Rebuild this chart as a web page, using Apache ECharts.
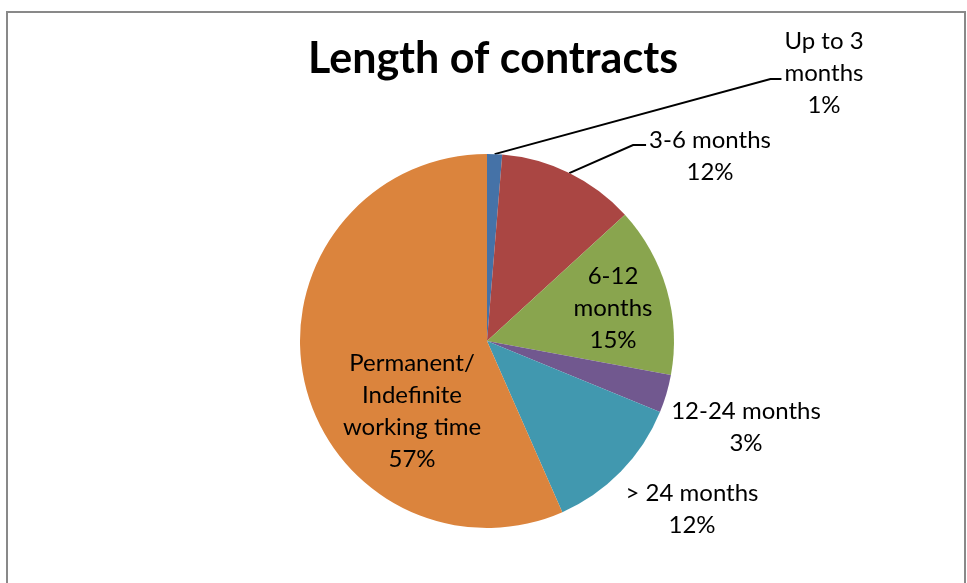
<!DOCTYPE html>
<html>
<head>
<meta charset="utf-8">
<script src="https://cdn.jsdelivr.net/npm/echarts@6/dist/echarts.min.js"></script>
<style>
  html, body { margin: 0; padding: 0; background: #fff; }
  #chart { width: 967px; height: 583px; }
</style>
</head>
<body>
<div id="chart"></div>
<script>
// data
const categories = ['Up to 3\nmonths', '3-6 months', '6-12\nmonths', '12-24 months', '> 24 months', 'Permanent/\nIndefinite\nworking time'];
const shares = [1.3, 11.9, 14.7, 3.3, 12.2, 56.6];
const colors = ['#4572A7', '#AA4643', '#89A54E', '#71588F', '#4198AF', '#DB843D'];

// where each label sits (center of the text block) and its leader line, if any
const labelSpots = [[824, 73], [710, 156], [613, 308], [746, 427], [692, 509], [412, 411]];
const leaders = [{ tail: 11, dy: 6 }, { tail: 13, dy: -11 }, null, null, null, null];

const chart = echarts.init(document.getElementById('chart'));

const seriesData = categories.map((name, i) => ({
    name: name,
    value: shares[i],
    itemStyle: { color: colors[i] },
    labelLine: { show: !!leaders[i] }
}));

const option = {
    animation: false,
    title: {
        text: 'Length of contracts',
        left: 488,
        top: 33,
        textAlign: 'center',
        textStyle: {
            fontFamily: 'Lato',
            fontWeight: 'bold',
            fontSize: 43,
            color: '#000'
        }
    },
    graphic: [{
        type: 'rect',
        shape: { x: 7, y: 12, width: 958, height: 600 },
        style: { fill: 'none', stroke: '#898989', lineWidth: 2 },
        silent: true
    }],
    series: [{
        type: 'pie',
        center: [487, 341],
        radius: 187,
        startAngle: 90,
        clockwise: true,
        data: seriesData,
        label: {
            show: true,
            position: 'outside',
            fontFamily: 'Lato',
            fontSize: 24,
            lineHeight: 32,
            color: '#000',
            align: 'center',
            formatter: p => p.name + '\n' + Math.round(p.value) + '%'
        },
        labelLine: {
            show: true,
            length: 10,
            length2: 10,
            lineStyle: { color: '#000', width: 2 }
        },
        labelLayout: function (params) {
            const i = params.dataIndex;
            const spot = labelSpots[i];
            const out = { x: spot[0], y: spot[1], align: 'center', verticalAlign: 'middle' };
            const lead = leaders[i];
            if (lead && params.labelLinePoints) {
                const left = spot[0] - params.labelRect.width / 2 - 3;
                const ly = spot[1] + lead.dy;
                out.labelLinePoints = [
                    params.labelLinePoints[0],
                    [left - lead.tail, ly],
                    [left, ly]
                ];
            }
            return out;
        }
    }]
};

chart.setOption(option);
</script>
</body>
</html>
